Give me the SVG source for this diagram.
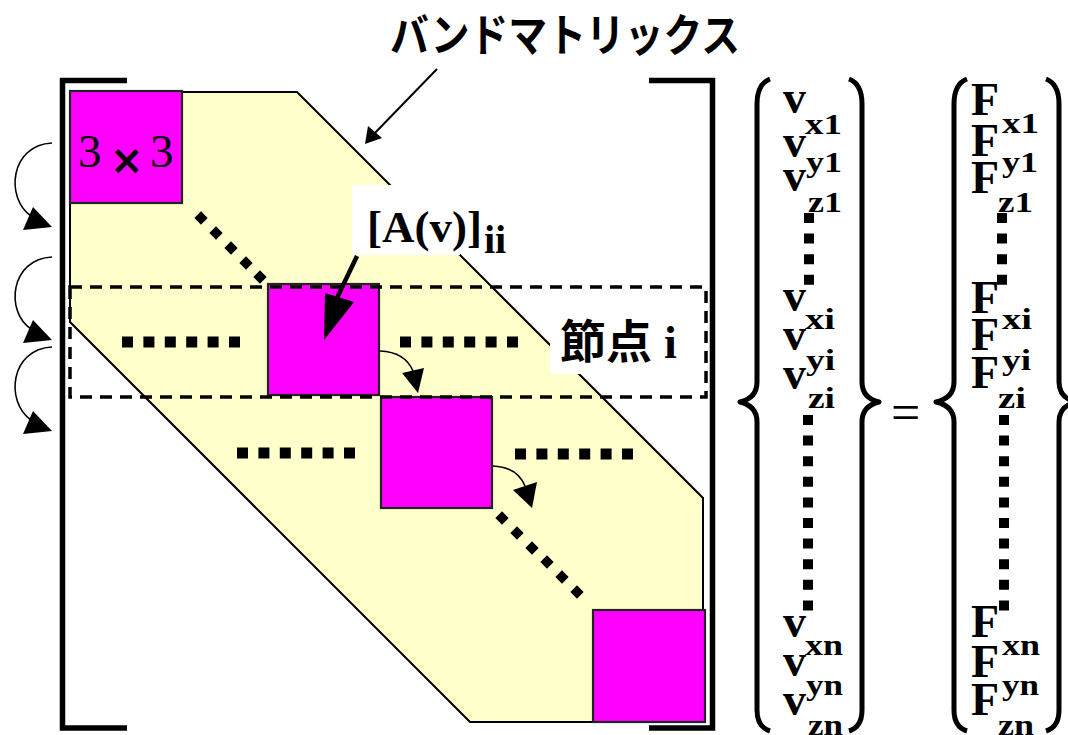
<svg xmlns="http://www.w3.org/2000/svg" width="1068" height="735" viewBox="0 0 1068 735">
<style>
.blk{fill:#000}
.band{fill:#FFFFCC;stroke:#000;stroke-width:2}
.sq{fill:#FF00FF;stroke:#222;stroke-width:2.2}
.brk{fill:none;stroke:#000;stroke-width:5.5}
.brace{fill:none;stroke:#000;stroke-width:5;stroke-linejoin:round}
.dash{fill:none;stroke:#000;stroke-width:3.5;stroke-dasharray:12 8}
.hdot{stroke:#000;stroke-width:11;stroke-dasharray:11 10.4;fill:none}
.vdot{stroke:#000;stroke-width:10;stroke-dasharray:10 10.6;fill:none}
.thin{fill:none;stroke:#000;stroke-width:1.6}
.ser{font-family:"Liberation Serif","Times New Roman",serif;font-weight:bold}
.big{font-size:46px}
.sub{font-size:29px}
.jp{font-family:"Noto Sans CJK JP","Noto Sans",sans-serif;font-weight:bold}
</style>
<defs>
<rect id="dm" x="-4.7" y="-4.7" width="9.4" height="9.4" transform="rotate(45)" fill="#000"/>
</defs>

<g id="title">
<text class="jp" x="390" y="52" font-size="45" textLength="350" lengthAdjust="spacingAndGlyphs">バンドマトリックス</text>
</g>

<g id="band">
<polygon class="band" points="70,92 297,92 703,498 703,722 470,722 70,322"/>
</g>

<g id="blocks">
<rect id="block1" class="sq" x="70" y="91" width="112" height="112"/>
<rect id="block2" class="sq" x="268" y="284" width="111" height="111"/>
<rect id="block3" class="sq" x="381" y="397" width="111" height="111"/>
<rect id="block4" class="sq" x="593" y="610" width="112" height="112"/>
<text id="block1-label" y="167" font-family="'Liberation Serif','Times New Roman',serif" font-size="47"><tspan x="78">3</tspan><tspan x="110" y="174" font-family="'DejaVu Sans',sans-serif" font-weight="bold" font-size="40">×</tspan><tspan x="150" y="167">3</tspan></text>
</g>

<g id="node-region">
<rect class="dash" x="70" y="287" width="636" height="110"/>
</g>

<g id="dots">
<line class="hdot" x1="122" y1="342" x2="240" y2="342"/>
<line class="hdot" x1="400" y1="342" x2="518" y2="342"/>
<line class="hdot" x1="237" y1="453" x2="355" y2="453"/>
<line class="hdot" x1="515" y1="454" x2="633" y2="454"/>
<use href="#dm" x="201" y="218"/>
<use href="#dm" x="216" y="233"/>
<use href="#dm" x="231" y="248"/>
<use href="#dm" x="246" y="263"/>
<use href="#dm" x="260" y="277"/>
<use href="#dm" x="502" y="518"/>
<use href="#dm" x="517" y="533"/>
<use href="#dm" x="532" y="548"/>
<use href="#dm" x="547" y="562"/>
<use href="#dm" x="562" y="577"/>
<use href="#dm" x="577" y="592"/>
</g>

<g id="brackets">
<path class="brk" d="M127,80.5 L62.5,80.5 L62.5,728 L127,728"/>
<path class="brk" d="M649,80.5 L712.5,80.5 L712.5,728 L649,728"/>
</g>

<g id="label-A">
<rect x="352" y="185" width="108" height="70" fill="#fff"/>
<text class="ser" x="367" y="242" font-size="45">[A(v)]<tspan y="253" dx="2" font-size="40">ii</tspan></text>
</g>

<g id="label-node">
<rect x="550" y="315" width="144" height="59" fill="#fff"/>
<text x="560" y="358" font-size="46"><tspan class="jp">節点</tspan><tspan class="ser" dx="12">i</tspan></text>
</g>

<g id="connectors">
<line x1="437" y1="69" x2="372" y2="136" stroke="#000" stroke-width="2"/>
<polygon class="blk" points="365,144 368,126 382,138"/>
<line x1="357" y1="256" x2="336" y2="300" stroke="#000" stroke-width="4.5"/>
<polygon class="blk" points="324,340 325,293 354,302"/>
<path class="thin" d="M380,351 Q405,352 413,371"/>
<polygon class="blk" points="402,373 424,368 418,393"/>
<path class="thin" d="M493,466 Q517,467 525,486"/>
<polygon class="blk" points="513,490 537,482 532,508"/>
<path class="thin" d="M52,143 C10,145 5,198 31,216"/>
<polygon class="blk" points="23,230 33,207 52,227"/>
<path class="thin" d="M52,257 C10,259 5,312 31,329"/>
<polygon class="blk" points="23,343 33,320 52,340"/>
<path class="thin" d="M52,347 C10,349 5,402 31,420"/>
<polygon class="blk" points="23,434 33,411 52,431"/>
</g>

<g id="vector-v">
<path class="brace" d="M770,79 Q757,84 757,104 L757,382 Q757,398 740,402 Q757,406 757,422 L757,710 Q757,727 770,731"/>
<path class="brace" d="M849,79 Q862,84 862,104 L862,382 Q862,398 879,402 Q862,406 862,422 L862,710 Q862,727 849,731"/>
<g class="ser">
<text class="big" x="783" y="113">v</text>
<text class="sub" x="805" y="134" textLength="37" lengthAdjust="spacingAndGlyphs">x1</text>
<text class="big" x="783" y="157">v</text>
<text class="sub" x="806" y="172" textLength="36" lengthAdjust="spacingAndGlyphs">y1</text>
<text class="big" x="783" y="191">v</text>
<text class="sub" x="808" y="212" textLength="34" lengthAdjust="spacingAndGlyphs">z1</text>
<text class="big" x="783" y="311">v</text>
<text class="sub" x="805" y="329" textLength="30" lengthAdjust="spacingAndGlyphs">xi</text>
<text class="big" x="783" y="350">v</text>
<text class="sub" x="806" y="370" textLength="29" lengthAdjust="spacingAndGlyphs">yi</text>
<text class="big" x="783" y="389">v</text>
<text class="sub" x="808" y="408" textLength="27" lengthAdjust="spacingAndGlyphs">zi</text>
<text class="big" x="783" y="637">v</text>
<text class="sub" x="805" y="655" textLength="38" lengthAdjust="spacingAndGlyphs">xn</text>
<text class="big" x="783" y="676">v</text>
<text class="sub" x="806" y="695" textLength="37" lengthAdjust="spacingAndGlyphs">yn</text>
<text class="big" x="783" y="715">v</text>
<text class="sub" x="808" y="735" textLength="35" lengthAdjust="spacingAndGlyphs">zn</text>
</g>
<line class="vdot" x1="809" y1="213" x2="809" y2="285"/>
<line class="vdot" x1="808" y1="415" x2="808" y2="613"/>
</g>

<g id="equals">
<text x="891" y="430" font-family="'Liberation Serif','Times New Roman',serif" font-size="52">=</text>
</g>

<g id="vector-F">
<path class="brace" d="M967,79 Q954,84 954,104 L954,382 Q954,398 936,402 Q954,406 954,422 L954,710 Q954,727 967,731"/>
<path class="brace" d="M1046,79 Q1059,84 1059,104 L1059,382 Q1059,398 1076,402 Q1059,406 1059,422 L1059,710 Q1059,727 1046,731"/>
<g class="ser">
<text class="big" x="971" y="115">F</text>
<text class="sub" x="1002" y="133" textLength="37" lengthAdjust="spacingAndGlyphs">x1</text>
<text class="big" x="971" y="156">F</text>
<text class="sub" x="1002" y="172" textLength="36" lengthAdjust="spacingAndGlyphs">y1</text>
<text class="big" x="971" y="193">F</text>
<text class="sub" x="998" y="212" textLength="35" lengthAdjust="spacingAndGlyphs">z1</text>
<text class="big" x="971" y="313">F</text>
<text class="sub" x="1002" y="329" textLength="30" lengthAdjust="spacingAndGlyphs">xi</text>
<text class="big" x="971" y="350">F</text>
<text class="sub" x="1002" y="370" textLength="29" lengthAdjust="spacingAndGlyphs">yi</text>
<text class="big" x="971" y="388">F</text>
<text class="sub" x="998" y="408" textLength="28" lengthAdjust="spacingAndGlyphs">zi</text>
<text class="big" x="971" y="637">F</text>
<text class="sub" x="1002" y="655" textLength="38" lengthAdjust="spacingAndGlyphs">xn</text>
<text class="big" x="971" y="677">F</text>
<text class="sub" x="1002" y="695" textLength="37" lengthAdjust="spacingAndGlyphs">yn</text>
<text class="big" x="971" y="715">F</text>
<text class="sub" x="998" y="735" textLength="36" lengthAdjust="spacingAndGlyphs">zn</text>
</g>
<line class="vdot" x1="1002" y1="213" x2="1002" y2="285"/>
<line class="vdot" x1="1004" y1="415" x2="1004" y2="613"/>
</g>
</svg>
